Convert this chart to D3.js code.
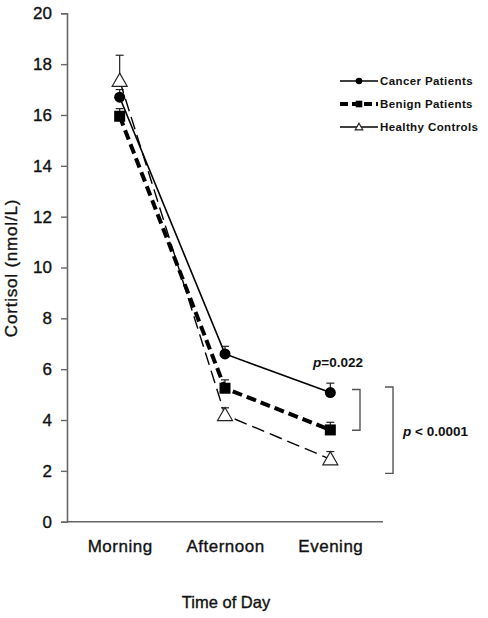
<!DOCTYPE html>
<html><head><meta charset="utf-8">
<script src="https://cdn.jsdelivr.net/npm/d3@7"></script>
<style>body{margin:0;background:#fff}text{font-family:"Liberation Sans",Arial,sans-serif}.heavy{stroke:#111;stroke-width:0.35px}</style>
</head><body><svg id="c" width="488" height="618"></svg>
<script>
const categories = ["Morning","Afternoon","Evening"];
const seriesNames = ["Cancer Patients","Benign Patients","Healthy Controls"];
const cancer = [16.7, 6.6, 5.08];
const cancerErr = [0.3, 0.3, 0.37];
const benign = [15.95, 5.25, 3.61];
const benignErr = [0.3, 0.33, 0.3];
const healthy = [17.35, 4.2, 2.46];
const healthyErr = [1.0, 0.28, 0.3];
const yTicks = [0,2,4,6,8,10,12,14,16,18,20];

const svg = d3.select("#c");
const x = d3.scalePoint().domain(categories).range([67,383]).padding(0.5);
const y = d3.scaleLinear().domain([0,20]).range([521.7,13.3]);

const series = [
  {name:seriesNames[0], v:cancer, e:cancerErr, dash:null, w:1.6, shape:"circle"},
  {name:seriesNames[1], v:benign, e:benignErr, dash:"10,5", w:4, shape:"square"},
  {name:seriesNames[2], v:healthy, e:healthyErr, dash:"13,6", w:1.4, shape:"triangle"}
];

// axes
const gy = svg.append("g").attr("transform","translate(67,0)")
  .call(d3.axisLeft(y).tickValues(yTicks).tickSize(6).tickPadding(9).tickFormat(d3.format("d")));
gy.select(".domain").attr("stroke","#666").attr("stroke-width",1.6);
gy.selectAll(".tick line").attr("stroke","#666").attr("stroke-width",1.4);
gy.selectAll(".tick text").attr("font-size",17).attr("fill","#111").attr("class","heavy");

const gx = svg.append("g").attr("transform","translate(0,521.7)")
  .call(d3.axisBottom(x).tickSize(0).tickPadding(18).tickSizeOuter(0));
gx.select(".domain").attr("stroke","#666").attr("stroke-width",1.6).attr("d","M67,0H383");
gx.selectAll(".tick text").attr("font-size",17).attr("letter-spacing",0.5).attr("fill","#111").attr("class","heavy");

svg.append("text").attr("transform","translate(17,268) rotate(-90)").attr("text-anchor","middle").attr("class","heavy")
  .attr("font-size",17).attr("letter-spacing",0.8).attr("fill","#111").text("Cortisol (nmol/L)");
svg.append("text").attr("x",226).attr("y",608).attr("text-anchor","middle").attr("class","heavy")
  .attr("font-size",16.5).attr("fill","#111").text("Time of Day");

function marker(g, shape, cx, cy, s){
  if(shape==="circle") g.append("circle").attr("cx",cx).attr("cy",cy).attr("r",5.5*s).attr("fill","#000");
  else if(shape==="square") g.append("rect").attr("x",cx-5.5*s).attr("y",cy-5.5*s).attr("width",11*s).attr("height",11*s).attr("fill","#000");
  else { const r=7.5*s; g.append("path").attr("d",`M${cx},${cy-r}L${cx+r},${cy+r*0.75}L${cx-r},${cy+r*0.75}Z`)
    .attr("fill","#fff").attr("stroke","#222").attr("stroke-width",1.2); }
}

const line = d3.line().x((d,i)=>x(categories[i])).y(d=>y(d));
series.forEach(s=>{
  const g = svg.append("g");
  g.append("path").attr("d",line(s.v)).attr("fill","none").attr("stroke","#000")
    .attr("stroke-width",s.w).attr("stroke-dasharray",s.dash);
  s.v.forEach((v,i)=>{
    const cx=x(categories[i]);
    g.append("line").attr("x1",cx).attr("x2",cx).attr("y1",y(v)).attr("y2",y(v+s.e[i])).attr("stroke","#222").attr("stroke-width",1.2);
    g.append("line").attr("x1",cx-4).attr("x2",cx+4).attr("y1",y(v+s.e[i])).attr("y2",y(v+s.e[i])).attr("stroke","#222").attr("stroke-width",1.2);
  });
});
series.forEach(s=>{
  const g = svg.append("g");
  s.v.forEach((v,i)=>marker(g,s.shape,x(categories[i]),y(v),1));
});

// legend
const leg = svg.append("g");
series.forEach((s,i)=>{
  const ly = 81 + i*23;
  leg.append("line").attr("x1",340).attr("x2",378).attr("y1",ly).attr("y2",ly).attr("stroke","#000")
    .attr("stroke-width",s.shape==="square"?4:1.6).attr("stroke-dasharray",s.shape==="square"?"8,4":null);
  marker(leg,s.shape,359,ly,s.shape==="triangle"?0.5:0.6);
  leg.append("text").attr("x",380).attr("y",ly+4).attr("font-size",11.5).attr("font-weight","bold")
    .attr("letter-spacing",0.4).attr("fill","#111").text(s.name);
});

// annotations
const t1 = svg.append("text").attr("x",313).attr("y",367).attr("font-size",13.5).attr("font-weight","bold").attr("fill","#111");
t1.append("tspan").attr("font-style","italic").text("p");
t1.append("tspan").text("=0.022");
const t2 = svg.append("text").attr("x",403).attr("y",436).attr("font-size",13.5).attr("font-weight","bold").attr("fill","#111");
t2.append("tspan").attr("font-style","italic").text("p");
t2.append("tspan").text(" < 0.0001");

function bracket(xv, y1, y2){
  svg.append("path").attr("d",`M${xv-8},${y1}H${xv}V${y2}H${xv-8}`).attr("fill","none").attr("stroke","#555").attr("stroke-width",1.4);
}
bracket(360, y(5.2), y(3.6));
bracket(393, y(5.3), y(1.9));
</script></body></html>
